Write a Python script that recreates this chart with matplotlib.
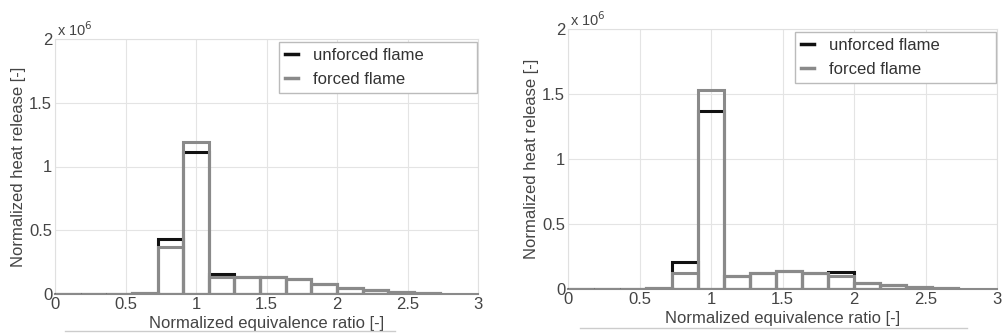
import numpy as np
import matplotlib
matplotlib.use('Agg')
import matplotlib.pyplot as plt
from matplotlib.lines import Line2D

plt.rcParams['font.family'] = ['Liberation Sans', 'DejaVu Sans']

# bins of width 2/11 from 0 to 30/11
bin_edges = np.arange(16) * 2 / 11
bin_centers = (bin_edges[:-1] + bin_edges[1:]) / 2

# heat release in units of 1e6, left panel
left_unforced = [0.0, 0.0, 0.003, 0.01, 0.43, 1.11, 0.16, 0.13, 0.13, 0.12, 0.08, 0.05, 0.03, 0.015, 0.01]
left_forced = [0.0, 0.0, 0.003, 0.01, 0.37, 1.19, 0.13, 0.13, 0.13, 0.12, 0.08, 0.05, 0.03, 0.015, 0.01]

# right panel
right_unforced = [0.0, 0.0, 0.002, 0.005, 0.21, 1.37, 0.10, 0.12, 0.14, 0.12, 0.13, 0.05, 0.03, 0.015, 0.01]
right_forced = [0.0, 0.0, 0.002, 0.005, 0.12, 1.53, 0.10, 0.12, 0.14, 0.12, 0.10, 0.05, 0.03, 0.015, 0.01]

x_ticks = [0, 0.5, 1, 1.5, 2, 2.5, 3]
x_ticklabels = ['0', '0.5', '1', '1.5', '2', '2.5', '3']
y_ticks = [0, 0.5, 1, 1.5, 2]
y_ticklabels = ['0', '0.5', '1', '1.5', '2']

BLACK = '#111111'
GRAY = '#8a8a8a'
TXT = '#444444'

fig = plt.figure(figsize=(10.05, 3.35), dpi=100)


def draw_panel(rect, unforced, forced, legend_box):
    ax = fig.add_axes(rect)
    w = bin_edges[1] - bin_edges[0]
    ax.bar(bin_centers, unforced, width=w, fill=False, edgecolor=BLACK, linewidth=2.2, zorder=3)
    ax.bar(bin_centers, forced, width=w, fill=False, edgecolor=GRAY, linewidth=2.2, zorder=4)

    ax.set_xlim(0, 3)
    ax.set_ylim(0, 2)
    ax.set_xticks(x_ticks)
    ax.set_xticklabels(x_ticklabels)
    ax.set_yticks(y_ticks)
    ax.set_yticklabels(y_ticklabels)
    ax.tick_params(length=0, labelsize=12, colors=TXT, pad=2)
    ax.grid(True, color='#e4e4e4', linewidth=0.8)
    ax.set_axisbelow(True)
    for s in ['top', 'right', 'left']:
        ax.spines[s].set_color('#e0e0e0')
        ax.spines[s].set_linewidth(0.8)
    ax.spines['bottom'].set_color(GRAY)
    ax.spines['bottom'].set_linewidth(1.5)

    ax.set_xlabel('Normalized equivalence ratio [-]', fontsize=12, color=TXT, labelpad=3)
    ax.set_ylabel('Normalized heat release [-]', fontsize=12, color=TXT, labelpad=2)
    ax.text(0.005, 1.0, r'x 10$^6$', transform=ax.transAxes, fontsize=10.5,
            color=TXT, ha='left', va='bottom')

    handles = [Line2D([], [], color=BLACK, linewidth=2.5),
               Line2D([], [], color=GRAY, linewidth=2.5)]
    leg = ax.legend(handles, ['unforced flame', 'forced flame'], loc='upper right',
                    bbox_to_anchor=legend_box, mode='expand', fontsize=12,
                    handlelength=0.8, handletextpad=0.9, borderpad=0.35,
                    labelspacing=0.55, borderaxespad=0, fancybox=False,
                    framealpha=1, edgecolor='#bbbbbb')
    for t in leg.get_texts():
        t.set_color('#333333')
    return ax


draw_panel([55 / 1005, 1 - 294 / 335, 423 / 1005, 255 / 335], left_unforced, left_forced,
           (0.53, 0.8, 0.468, 0.188))
draw_panel([568 / 1005, 1 - 289 / 335, 429 / 1005, 260 / 335], right_unforced, right_forced,
           (0.529, 0.8, 0.469, 0.188))

# underline below the x labels, as in the scanned figure
fig.add_artist(Line2D([65 / 1005, 395 / 1005], [4 / 335, 4 / 335], color='#cccccc', linewidth=1))
fig.add_artist(Line2D([580 / 1005, 967 / 1005], [7 / 335, 7 / 335], color='#cccccc', linewidth=1))

fig.savefig('out.png', dpi=100)
